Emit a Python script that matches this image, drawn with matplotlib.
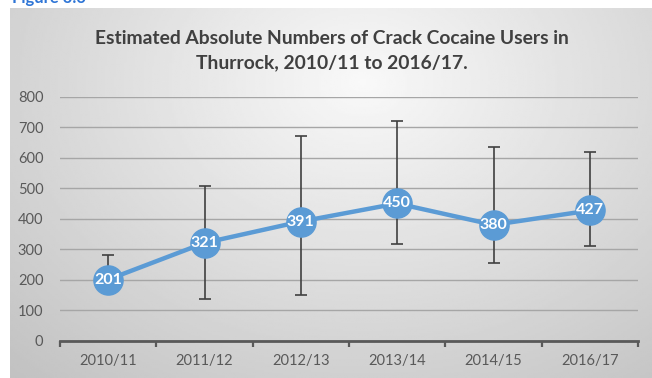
"""Estimated absolute numbers of crack cocaine users in Thurrock, with error bars."""

import numpy as np
import matplotlib.pyplot as plt

# Style tokens
LINE_BLUE = "#5B9BD5"
AXIS_GREY = "#595959"
GRID_GREY = "#a6a6a6"
ERR_GREY = "#404040"
TITLE_GREY = "#404040"
FIG_BLUE = "#2e75d6"
FONT = ["Lato", "DejaVu Sans"]

years = ["2010/11", "2011/12", "2012/13", "2013/14", "2014/15", "2016/17"]
users = [201, 321, 391, 450, 380, 427]
lower = [178, 136, 152, 316, 254, 310]
upper = [283, 506, 670, 721, 634, 618]
y_ticks = [0, 100, 200, 300, 400, 500, 600, 700, 800]

W, H, DPI = 652, 378, 100


def main():
    fig = plt.figure(figsize=(W / DPI, H / DPI), dpi=DPI)
    fig.patch.set_facecolor("white")

    # gradient panel behind the chart
    bg = fig.add_axes([10 / W, 0.0, 1 - 10 / W, (H - 8) / H])
    gx, gy = np.meshgrid(np.linspace(0, 1, 300), np.linspace(0, 1, 200))
    r = np.sqrt(((gx - 0.55) / 0.75) ** 2 + ((gy - 0.2) / 1.0) ** 2)
    shade = 0.975 - 0.2 * np.clip(r, 0, 1.2)
    bg.imshow(shade, cmap="gray", vmin=0, vmax=1, aspect="auto", extent=[0, 1, 0, 1], origin="upper")
    bg.set_axis_off()

    # figure caption above the panel, mostly cropped off as in the source
    fig.text(12 / W, 1 - 3 / H, "Figure 3.3", color=FIG_BLUE, fontsize=12,
             fontweight="bold", family=FONT, va="baseline", ha="left")

    fig.text(0.509, 1 - 38 / H, "Estimated Absolute Numbers of Crack Cocaine Users in",
             ha="center", va="center", fontsize=13.9, fontweight="bold", color=TITLE_GREY, family=FONT)
    fig.text(0.509, 1 - 63 / H, "Thurrock, 2010/11 to 2016/17.",
             ha="center", va="center", fontsize=13.9, fontweight="bold", color=TITLE_GREY, family=FONT)

    ax = fig.add_axes([60 / W, 1 - 341 / H, (638 - 60) / W, (341 - 96.5) / H])
    ax.patch.set_alpha(0)

    x = np.arange(len(years))
    y = np.array(users)
    yerr = [y - np.array(lower), np.array(upper) - y]

    ax.errorbar(x, y, yerr=yerr, fmt="none", ecolor=ERR_GREY, elinewidth=1.2,
                capsize=4, capthick=1.2, zorder=2)
    ax.plot(x, y, color=LINE_BLUE, linewidth=3.2, zorder=3, solid_capstyle="round")
    ax.plot(x, y, "o", markersize=21, color=LINE_BLUE, markeredgecolor=LINE_BLUE, zorder=4)
    for xi, v in zip(x, users):
        ax.text(xi, v, str(v), ha="center", va="center", color="white", fontsize=11.5,
                fontweight="bold", family=FONT, zorder=5)

    ax.set_xlim(-0.5, len(years) - 0.5)
    ax.set_ylim(0, 800)
    ax.set_yticks(y_ticks)
    ax.set_yticklabels([str(t) for t in y_ticks], fontsize=10.5, color=AXIS_GREY, family=FONT)
    ax.tick_params(axis="y", length=0, pad=12)

    # category ticks sit on the boundaries, labels in the middle
    ax.set_xticks(np.arange(len(years) + 1) - 0.5)
    ax.set_xticklabels([])
    ax.set_xticks(x, minor=True)
    ax.set_xticklabels(years, minor=True, fontsize=10.5, color=AXIS_GREY, family=FONT)
    ax.tick_params(axis="x", which="major", length=4, width=1.6, color=AXIS_GREY, direction="out")
    ax.tick_params(axis="x", which="minor", length=0, pad=9)

    for s in ["top", "right", "left"]:
        ax.spines[s].set_visible(False)
    ax.spines["bottom"].set_color(AXIS_GREY)
    ax.spines["bottom"].set_linewidth(2)
    ax.spines["bottom"].set_zorder(6)

    ax.grid(axis="y", color=GRID_GREY, linewidth=1)
    ax.set_axisbelow(True)

    fig.savefig("out.png", dpi=DPI, facecolor="white")
    plt.close(fig)


if __name__ == "__main__":
    main()
